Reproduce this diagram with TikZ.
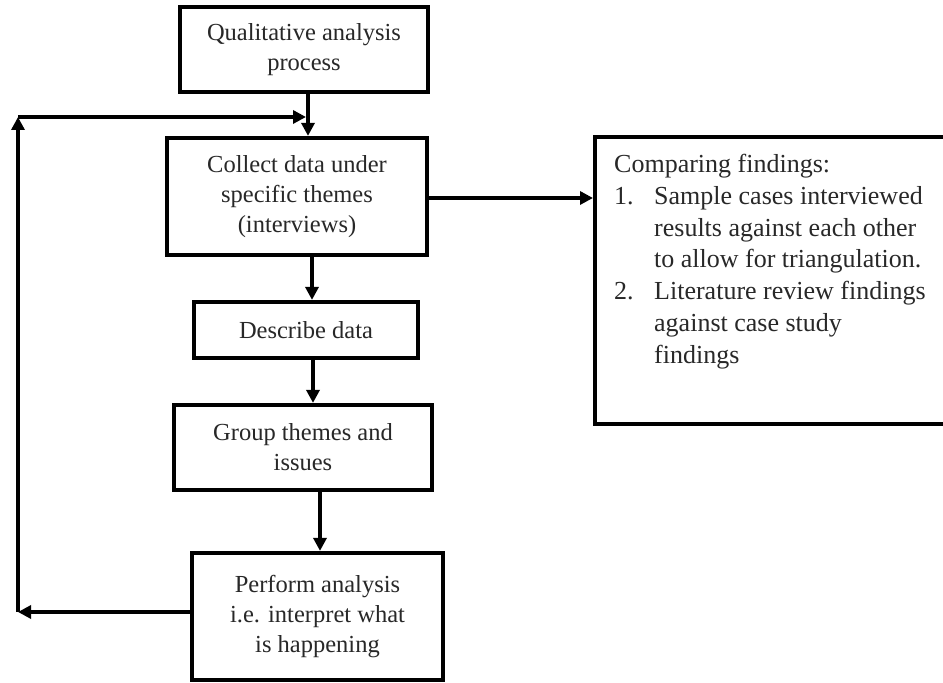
\documentclass[tikz,border=0pt]{standalone}
\usepackage{fontspec}
\setmainfont{Liberation Serif}
\usetikzlibrary{arrows.meta}
\definecolor{txt}{RGB}{40,40,40}
\tikzset{
  x=1pt, y=1pt,
  stepbox/.style={draw=black, line width=4.2pt, fill=white, align=center,
    text=txt, font=\fontsize{24.5}{30}\selectfont, inner sep=0pt},
  arr/.style={line width=4.2pt, -{Triangle[length=13pt,width=13pt]}}
}
\begin{document}
\begin{tikzpicture}
\useasboundingbox (0,0) rectangle (943,683);
% main column of steps
\node[stepbox, minimum width=248, minimum height=85] (b1) at (304,633.5)
  {Qualitative analysis\\process};
\node[stepbox, minimum width=260, minimum height=117] (b2) at (297,486.5)
  {Collect data under\\specific themes\\(interviews)};
\node[stepbox, minimum width=224, minimum height=56] (b3) at (306,353)
  {Describe data};
\node[stepbox, minimum width=258, minimum height=85] (b4) at (303,235.5)
  {Group themes and\\issues};
\node[stepbox, minimum width=251, minimum height=127] (b5) at (317.5,66.5)
  {Perform analysis\\i.e. interpret what\\is happening};
% comparison box on the right, running past the page edge
\node[draw=black, line width=4.2pt, minimum width=370, minimum height=287,
  anchor=north west, inner sep=0pt] (cmp) at (593,548) {};
\node[anchor=north west, align=left, text=txt, inner sep=0pt,
  font=\fontsize{26}{31.8}\selectfont] (cmptxt) at (614,529)
  {Comparing findings:\\
   \makebox[40pt][l]{1.}Sample cases interviewed\\
   \hspace*{40pt}results against each other\\
   \hspace*{40pt}to allow for triangulation.\\
   \makebox[40pt][l]{2.}Literature review findings\\
   \hspace*{40pt}against case study\\
   \hspace*{40pt}findings};
% vertical flow
\coordinate (xa) at (308,0);
\coordinate (xb) at (312,0);
\coordinate (xc) at (313,0);
\coordinate (xd) at (320,0);
\draw[arr] (xa |- b1.south) -- (xa |- b2.north);
\draw[arr] (xb |- b2.south) -- (xb |- b3.north);
\draw[arr] (xc |- b3.south) -- (xc |- b4.north);
\draw[arr] (xd |- b4.south) -- (xd |- b5.north);
% to the comparison box
\coordinate (ya) at (0,485);
\draw[arr] (ya -| b2.east) -- (ya -| cmp.west);
% feedback loop
\coordinate (lb) at (18,71);
\coordinate (lt) at (18,566);
\coordinate (rt) at (306,566);
\draw[arr] (lb -| b5.west) -- (lb);
\draw[arr] (lb) -- (lt);
\draw[arr] (lt) -- (rt);
\end{tikzpicture}
\end{document}
